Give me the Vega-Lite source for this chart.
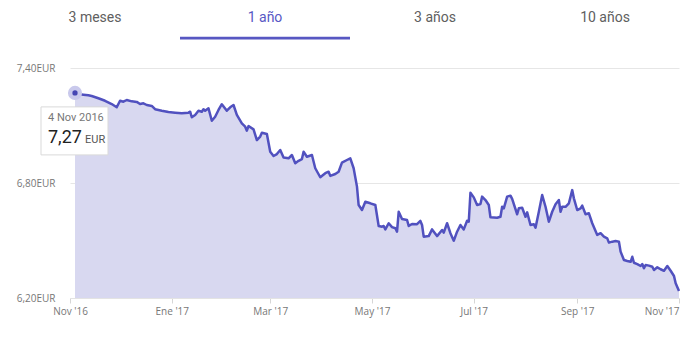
{
  "$schema": "https://vega.github.io/schema/vega-lite/v6.json",
  "width": 609,
  "height": 230,
  "autosize": {"type": "none"},
  "padding": {"left": 70, "top": 68, "right": 18, "bottom": 61},
  "background": "white",
  "config": {
    "view": {"stroke": null},
    "locale": {"number": {"decimal": ",", "thousands": ".", "grouping": [3], "currency": ["", "EUR"]}}
  },
  "datasets": {
    "prices": [
      {"date": "2016-11-04", "value": 7.27}, {"date": "2016-11-06", "value": 7.264}, {"date": "2016-11-09", "value": 7.261},
      {"date": "2016-11-12", "value": 7.258}, {"date": "2016-11-14", "value": 7.254}, {"date": "2016-11-18", "value": 7.242},
      {"date": "2016-11-22", "value": 7.229}, {"date": "2016-11-26", "value": 7.212}, {"date": "2016-11-29", "value": 7.195},
      {"date": "2016-12-01", "value": 7.229}, {"date": "2016-12-03", "value": 7.224}, {"date": "2016-12-05", "value": 7.233},
      {"date": "2016-12-08", "value": 7.226}, {"date": "2016-12-11", "value": 7.223}, {"date": "2016-12-13", "value": 7.212},
      {"date": "2016-12-15", "value": 7.216}, {"date": "2016-12-17", "value": 7.207}, {"date": "2016-12-20", "value": 7.202},
      {"date": "2016-12-22", "value": 7.185}, {"date": "2016-12-26", "value": 7.177}, {"date": "2016-12-30", "value": 7.17},
      {"date": "2017-01-03", "value": 7.167}, {"date": "2017-01-07", "value": 7.164}, {"date": "2017-01-11", "value": 7.167},
      {"date": "2017-01-12", "value": 7.172}, {"date": "2017-01-13", "value": 7.143}, {"date": "2017-01-15", "value": 7.155},
      {"date": "2017-01-17", "value": 7.177}, {"date": "2017-01-19", "value": 7.172}, {"date": "2017-01-20", "value": 7.185},
      {"date": "2017-01-21", "value": 7.177}, {"date": "2017-01-23", "value": 7.19}, {"date": "2017-01-25", "value": 7.125},
      {"date": "2017-01-27", "value": 7.146}, {"date": "2017-01-29", "value": 7.181}, {"date": "2017-01-31", "value": 7.211},
      {"date": "2017-02-03", "value": 7.177}, {"date": "2017-02-05", "value": 7.195}, {"date": "2017-02-07", "value": 7.207},
      {"date": "2017-02-09", "value": 7.155}, {"date": "2017-02-12", "value": 7.111}, {"date": "2017-02-14", "value": 7.094},
      {"date": "2017-02-15", "value": 7.073}, {"date": "2017-02-16", "value": 7.097}, {"date": "2017-02-19", "value": 7.08},
      {"date": "2017-02-21", "value": 7.024}, {"date": "2017-02-23", "value": 7.042}, {"date": "2017-02-24", "value": 7.062},
      {"date": "2017-02-27", "value": 7.056}, {"date": "2017-03-01", "value": 6.963}, {"date": "2017-03-03", "value": 6.941},
      {"date": "2017-03-05", "value": 6.951}, {"date": "2017-03-07", "value": 6.972}, {"date": "2017-03-09", "value": 6.933},
      {"date": "2017-03-12", "value": 6.929}, {"date": "2017-03-14", "value": 6.946}, {"date": "2017-03-16", "value": 6.903},
      {"date": "2017-03-18", "value": 6.916}, {"date": "2017-03-20", "value": 6.925}, {"date": "2017-03-21", "value": 6.963},
      {"date": "2017-03-23", "value": 6.937}, {"date": "2017-03-26", "value": 6.946}, {"date": "2017-03-28", "value": 6.877},
      {"date": "2017-03-31", "value": 6.83}, {"date": "2017-04-03", "value": 6.851}, {"date": "2017-04-05", "value": 6.859},
      {"date": "2017-04-06", "value": 6.837}, {"date": "2017-04-09", "value": 6.847}, {"date": "2017-04-11", "value": 6.859},
      {"date": "2017-04-13", "value": 6.906}, {"date": "2017-04-16", "value": 6.92}, {"date": "2017-04-18", "value": 6.929},
      {"date": "2017-04-20", "value": 6.877}, {"date": "2017-04-22", "value": 6.781}, {"date": "2017-04-23", "value": 6.685},
      {"date": "2017-04-25", "value": 6.659}, {"date": "2017-04-27", "value": 6.702}, {"date": "2017-04-30", "value": 6.694},
      {"date": "2017-05-03", "value": 6.685}, {"date": "2017-05-05", "value": 6.576}, {"date": "2017-05-07", "value": 6.572},
      {"date": "2017-05-08", "value": 6.576}, {"date": "2017-05-09", "value": 6.558}, {"date": "2017-05-11", "value": 6.59},
      {"date": "2017-05-13", "value": 6.57}, {"date": "2017-05-15", "value": 6.564}, {"date": "2017-05-16", "value": 6.546},
      {"date": "2017-05-17", "value": 6.65}, {"date": "2017-05-19", "value": 6.612}, {"date": "2017-05-22", "value": 6.607},
      {"date": "2017-05-23", "value": 6.576}, {"date": "2017-05-25", "value": 6.586}, {"date": "2017-05-28", "value": 6.585},
      {"date": "2017-05-30", "value": 6.602}, {"date": "2017-05-31", "value": 6.581}, {"date": "2017-06-01", "value": 6.52},
      {"date": "2017-06-04", "value": 6.523}, {"date": "2017-06-06", "value": 6.558}, {"date": "2017-06-09", "value": 6.523},
      {"date": "2017-06-12", "value": 6.555}, {"date": "2017-06-13", "value": 6.541}, {"date": "2017-06-15", "value": 6.59},
      {"date": "2017-06-17", "value": 6.538}, {"date": "2017-06-19", "value": 6.499}, {"date": "2017-06-21", "value": 6.546},
      {"date": "2017-06-23", "value": 6.581}, {"date": "2017-06-25", "value": 6.558}, {"date": "2017-06-27", "value": 6.603},
      {"date": "2017-06-28", "value": 6.598}, {"date": "2017-06-29", "value": 6.749}, {"date": "2017-07-01", "value": 6.725},
      {"date": "2017-07-03", "value": 6.685}, {"date": "2017-07-05", "value": 6.69}, {"date": "2017-07-06", "value": 6.729},
      {"date": "2017-07-08", "value": 6.711}, {"date": "2017-07-10", "value": 6.685}, {"date": "2017-07-11", "value": 6.621},
      {"date": "2017-07-15", "value": 6.619}, {"date": "2017-07-17", "value": 6.624}, {"date": "2017-07-18", "value": 6.676},
      {"date": "2017-07-19", "value": 6.668}, {"date": "2017-07-21", "value": 6.729}, {"date": "2017-07-23", "value": 6.734},
      {"date": "2017-07-24", "value": 6.717}, {"date": "2017-07-27", "value": 6.637}, {"date": "2017-07-28", "value": 6.668},
      {"date": "2017-07-30", "value": 6.671}, {"date": "2017-08-01", "value": 6.624}, {"date": "2017-08-02", "value": 6.647},
      {"date": "2017-08-04", "value": 6.581}, {"date": "2017-08-06", "value": 6.585}, {"date": "2017-08-07", "value": 6.567},
      {"date": "2017-08-09", "value": 6.65}, {"date": "2017-08-11", "value": 6.737}, {"date": "2017-08-13", "value": 6.676},
      {"date": "2017-08-15", "value": 6.598}, {"date": "2017-08-17", "value": 6.65}, {"date": "2017-08-19", "value": 6.689},
      {"date": "2017-08-21", "value": 6.711}, {"date": "2017-08-22", "value": 6.65}, {"date": "2017-08-23", "value": 6.676},
      {"date": "2017-08-25", "value": 6.676}, {"date": "2017-08-27", "value": 6.694}, {"date": "2017-08-29", "value": 6.763},
      {"date": "2017-08-30", "value": 6.72}, {"date": "2017-09-01", "value": 6.659}, {"date": "2017-09-03", "value": 6.668},
      {"date": "2017-09-04", "value": 6.682}, {"date": "2017-09-06", "value": 6.637}, {"date": "2017-09-08", "value": 6.642},
      {"date": "2017-09-10", "value": 6.59}, {"date": "2017-09-13", "value": 6.529}, {"date": "2017-09-15", "value": 6.538},
      {"date": "2017-09-17", "value": 6.52}, {"date": "2017-09-19", "value": 6.511}, {"date": "2017-09-20", "value": 6.489},
      {"date": "2017-09-22", "value": 6.494}, {"date": "2017-09-24", "value": 6.497}, {"date": "2017-09-26", "value": 6.494},
      {"date": "2017-09-27", "value": 6.442}, {"date": "2017-09-29", "value": 6.398}, {"date": "2017-10-01", "value": 6.393},
      {"date": "2017-10-03", "value": 6.389}, {"date": "2017-10-04", "value": 6.415}, {"date": "2017-10-05", "value": 6.384},
      {"date": "2017-10-07", "value": 6.377}, {"date": "2017-10-09", "value": 6.367}, {"date": "2017-10-10", "value": 6.377},
      {"date": "2017-10-11", "value": 6.355}, {"date": "2017-10-12", "value": 6.372}, {"date": "2017-10-14", "value": 6.369},
      {"date": "2017-10-16", "value": 6.363}, {"date": "2017-10-17", "value": 6.346}, {"date": "2017-10-19", "value": 6.36},
      {"date": "2017-10-21", "value": 6.35}, {"date": "2017-10-23", "value": 6.342}, {"date": "2017-10-25", "value": 6.367},
      {"date": "2017-10-27", "value": 6.342}, {"date": "2017-10-29", "value": 6.315}, {"date": "2017-10-30", "value": 6.277},
      {"date": "2017-11-01", "value": 6.237}
    ],
    "sel": [{"date": "2016-11-04", "value": 7.27}],
    "tabs": [{"tab": "3 meses"}, {"tab": "1 año"}, {"tab": "3 años"}, {"tab": "10 años"}]
  },
  "layer": [
    {
      "encoding": {
        "x": {
          "field": "date", "type": "temporal",
          "scale": {"type": "utc", "domain": [1477958400000, 1509494400000], "nice": false},
          "axis": {
            "title": null, "grid": false,
            "values": [1477958400000, 1483228800000, 1488326400000, 1493596800000, 1498867200000, 1504224000000, 1509494400000],
            "labelExpr": "['Ene','Feb','Mar','Abr','May','Jun','Jul','Ago','Sep','Oct','Nov','Dic'][utcmonth(datum.value)] + \" '\" + utcFormat(datum.value, '%y')",
            "labelAlign": {"condition": {"test": "time(datum.value) >= 1509494400000", "value": "right"}, "value": "center"},
            "labelFont": "Open Sans", "labelFontSize": 10, "labelColor": "#777777",
            "labelPadding": 3, "tickSize": 5, "tickColor": "#d6d6d6",
            "domain": true, "domainColor": "#e3e3e3"
          }
        },
        "y": {
          "field": "value", "type": "quantitative",
          "scale": {"domain": [6.2, 7.4], "nice": false, "zero": false},
          "axis": {
            "title": null, "values": [6.2, 6.8, 7.4], "format": "$.2f",
            "grid": true, "gridColor": "#e6e6e6", "domain": false, "ticks": false, "tickSize": 0,
            "labelPadding": 15, "labelFont": "Open Sans", "labelFontSize": 10, "labelColor": "#777777"
          }
        }
      },
      "layer": [
        {"data": {"name": "prices"}, "mark": {"type": "area", "color": "#d8d8f0", "opacity": 1}, "encoding": {"y2": {"datum": 6.2}}},
        {"data": {"name": "prices"}, "mark": {"type": "line", "color": "#5151bf", "strokeWidth": 2.5, "strokeJoin": "round"}},
        {"data": {"name": "sel"}, "mark": {"type": "point", "shape": "M-34,14H33V62H-34Z", "size": 4, "filled": true, "fill": "white", "stroke": "#d9d9d9", "strokeWidth": 1, "opacity": 1}},
        {"data": {"name": "sel"}, "mark": {"type": "circle", "size": 200, "color": "#c9c9ec", "opacity": 1}},
        {"data": {"name": "sel"}, "mark": {"type": "circle", "size": 28, "color": "#4545b3", "opacity": 1}},
        {"data": {"name": "sel"}, "mark": {"type": "text", "align": "left", "baseline": "alphabetic", "dx": -27, "dy": 28, "font": "Roboto", "fontSize": 11, "color": "#777777"},
         "encoding": {"text": {"field": "date", "type": "temporal", "timeUnit": "utcyearmonthdate", "format": "%-d %b %Y"}}},
        {"data": {"name": "sel"}, "mark": {"type": "text", "align": "left", "baseline": "alphabetic", "dx": -27, "dy": 50, "font": "Roboto", "fontSize": 18, "color": "#212121"},
         "encoding": {"text": {"field": "value", "type": "quantitative", "format": ".2f"}}},
        {"data": {"name": "sel"}, "mark": {"type": "text", "align": "left", "baseline": "alphabetic", "dx": 10, "dy": 50, "font": "Roboto", "fontSize": 11, "color": "#555555", "text": "EUR"}}
      ]
    },
    {
      "data": {"name": "tabs"},
      "encoding": {
        "x": {"field": "tab", "type": "nominal", "sort": null,
              "scale": {"domain": ["3 meses", "1 año", "3 años", "10 años"], "range": [-60, 620], "paddingInner": 0, "paddingOuter": 0},
              "axis": null}
      },
      "layer": [
        {"mark": {"type": "text", "font": "Roboto", "fontSize": 14, "baseline": "middle"},
         "encoding": {
           "text": {"field": "tab"},
           "y": {"datum": 0.735, "type": "quantitative", "scale": {"domain": [0, 1], "range": [0, -68]}, "axis": null},
           "color": {"condition": {"test": "datum.tab === '1 año'", "value": "#5858c4"}, "value": "#606060"}
         }},
        {"transform": [{"filter": "datum.tab === '1 año'"}],
         "mark": {"type": "bar", "color": "#5757c2"},
         "encoding": {
           "y": {"datum": 0.458, "type": "quantitative", "scale": {"domain": [0, 1], "range": [0, -68]}, "axis": null},
           "y2": {"datum": 0.42}
         }}
      ]
    }
  ],
  "resolve": {"scale": {"x": "independent", "y": "independent"}}
}
